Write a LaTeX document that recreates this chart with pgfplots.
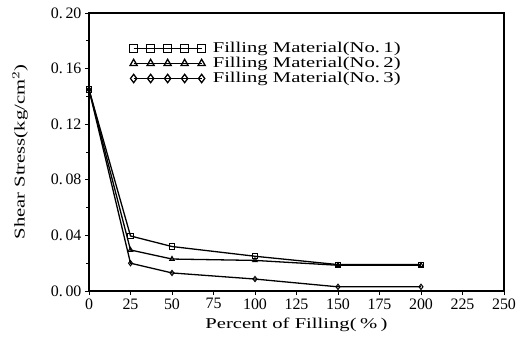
\documentclass[border=0pt]{standalone}
\usepackage{fontspec}
\setmainfont{Liberation Serif}
\usepackage{graphicx}
\usepackage{pgfplots}
\pgfplotsset{compat=1.18}
\newcommand{\wide}[1]{\scalebox{1.38}[1]{#1}}
\begin{document}
\begin{tikzpicture}
\begin{axis}[
  name=ax,
  scale only axis,
  width=415bp, height=278bp,
  xmin=0, xmax=250, ymin=0, ymax=0.2,
  xtick={0,25,...,250},
  ytick={0,0.04,...,0.2},
  yticklabels={{0.\,00},{0.\,04},{0.\,08},{0.\,12},{0.\,16},{0.\,20}},
  minor ytick={0.02,0.06,...,0.18},
  tick align=outside,
  xtick pos=bottom, ytick pos=left,
  major tick length=4bp, minor tick length=3bp,
  axis line style={line width=1.2pt},
  every tick/.style={black, line width=0.9pt},
  tick label style={font=\fontsize{16}{18}\selectfont},
  /pgf/number format/assume math mode=true,
  xlabel={\wide{Percent of Filling(\,\%\,)}},
  ylabel={\wide{Shear Stress(kg/cm$^{2}$)}},
  label style={font=\fontsize{15}{16}\selectfont},
  xlabel style={at={(axis description cs:0.5,-0.122)}, anchor=center},
  ylabel style={at={(axis description cs:-0.166,0.5)}, anchor=center},
  legend style={draw=none, fill=none, at={(axis description cs:0.097,0.90)}, anchor=north west,
    font=\fontsize{15}{15}\selectfont, row sep=0pt, inner sep=0pt,
    nodes={text height=10.5bp, text depth=3.5bp, inner sep=0.5bp}},
  legend cell align=left,
  legend image code/.code={\draw[#1, mark size=4.2pt, mark options={line width=1.3pt}] plot coordinates {(0bp,0bp)(17bp,0bp)(34bp,0bp)(51bp,0bp)(68bp,0bp)}; \path (78bp,0bp);},
  every axis plot/.append style={black, line width=1.3pt, mark size=2.6pt, mark options={solid, fill=white, line width=1pt}},
]
\addplot[mark=square] coordinates {(0,0.145)(25,0.0396)(50,0.032)(100,0.025)(150,0.019)(200,0.019)};
\addlegendentry{\wide{Filling Material(No.\,1)}}
\addplot[mark=triangle] coordinates {(0,0.145)(25,0.0295)(50,0.023)(100,0.022)(150,0.0185)(200,0.0185)};
\addlegendentry{\wide{Filling Material(No.\,2)}}
\addplot[mark=diamond] coordinates {(0,0.145)(25,0.020)(50,0.013)(100,0.0086)(150,0.003)(200,0.003)};
\addlegendentry{\wide{Filling Material(No.\,3)}}
\end{axis}
\pgfresetboundingbox
\path ([xshift=-89bp,yshift=-48bp]ax.south west) rectangle ([xshift=15bp,yshift=13bp]ax.north east);
\end{tikzpicture}
\end{document}
